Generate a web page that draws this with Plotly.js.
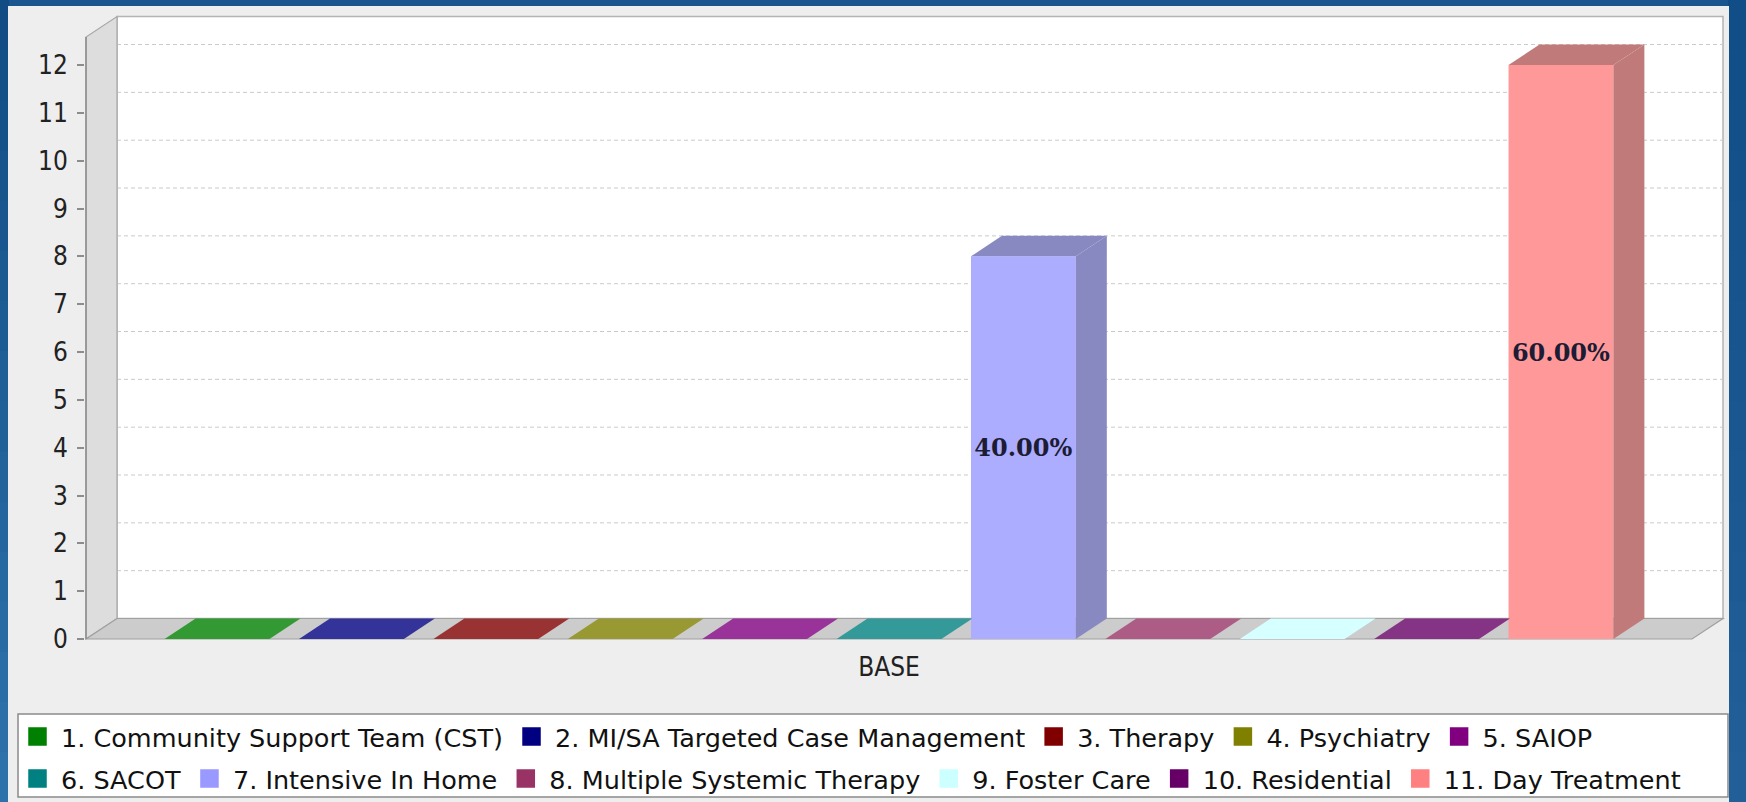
<!DOCTYPE html>
<html><head><meta charset="utf-8">
<script src="https://cdn.plot.ly/plotly-3.0.1.min.js"></script>
<style>html,body{margin:0;padding:0;background:#1a5590;overflow:hidden;} #chart{width:1746px;height:802px;}</style>
</head><body><div id="chart"></div>
<script>
// ---------------- data ----------------
const categoryLabel = 'BASE';
const seriesNames = [
  '1. Community Support Team (CST)',
  '2. MI/SA Targeted Case Management',
  '3. Therapy',
  '4. Psychiatry',
  '5. SAIOP',
  '6. SACOT',
  '7. Intensive In Home',
  '8. Multiple Systemic Therapy',
  '9. Foster Care',
  '10. Residential',
  '11. Day Treatment'
];
const seriesValues = [0, 0, 0, 0, 0, 0, 8, 0, 0, 0, 12];
const yTickValues = [0,1,2,3,4,5,6,7,8,9,10,11,12];
const yTickLabels = ['0','1','2','3','4','5','6','7','8','9','10','11','12'];

// ---------------- style ----------------
const seriesColors = ['#008000','#000080','#800000','#808000','#800080','#008080','#9999ff','#993366','#ccffff','#660066','#ff8080'];
const TICKFONT = 'DejaVu Sans Condensed, DejaVu Sans, sans-serif';
const LEGENDFONT = 'DejaVu Sans, sans-serif';
const W = 1746, H = 802;
const M = {l: 85, r: 19, t: 14, b: 161};
const plotW = W - M.l - M.r, plotH = H - M.t - M.b;
const pxPerX = 1606, pxPerY = 47.83;       // scale of the front plane
const frontLeftPx = 86, zeroPx = 639;
const xRange = [-0.5 - (frontLeftPx - M.l) / pxPerX, -0.5 + (W - M.r - frontLeftPx) / pxPerX];
const yRange = [-(H - M.b - zeroPx) / pxPerY, (zeroPx - M.t) / pxPerY];
const depthX = 31 / pxPerX, depthY = 20.5 / pxPerY;
const frontTop = 12.586;
const bargap = 0.0795, bargroupgap = 0.22;

function hex2rgb(h){h=h.replace('#','');return [0,2,4].map(i=>parseInt(h.substr(i,2),16));}
function rgb(a){return 'rgb('+a.map(v=>Math.round(v)).join(',')+')';}
function faceColor(h){return rgb(hex2rgb(h).map(v=>0.8*v+0.2*255));}
function darkColor(h){return rgb(hex2rgb(h).map(v=>0.8*Math.floor(v*0.7)+0.2*255));}
function px2paperX(px){return (px - M.l) / plotW;}
function px2paperY(py){return (H - M.b - py) / plotH;}
function mix(a, b, t){const A=hex2rgb(a),B=hex2rgb(b);return rgb(A.map((v,k)=>v+(B[k]-v)*t));}

const total = seriesValues.reduce((a,b)=>a+b,0);
const n = seriesNames.length;
const slot = (1 - bargap) / n;
const barW = slot * (1 - bargroupgap);

const traces = [];
seriesNames.forEach((name, i) => {
  const v = seriesValues[i];
  traces.push({
    type: 'bar', x: [0], y: [v], name: name, showlegend: false, legendgroup: 'g'+i,
    marker: {color: faceColor(seriesColors[i]), line: {width: 0}},
    text: [v > 0 ? (v / total * 100).toFixed(2) + '%' : ''],
    textposition: 'inside', insidetextanchor: 'middle',
    textfont: {family: 'DejaVu Serif, serif', size: 24, color: '#1c1c34', weight: 'bold'},
    hoverinfo: 'name+y'
  });
});
// legend entries
seriesNames.forEach((name, i) => {
  traces.push({
    type: 'scatter', mode: 'markers', x: [null], y: [null], name: name,
    legendgroup: 'g'+i, legend: i < 5 ? 'legend' : 'legend2',
    marker: {symbol: 'square', size: 16, color: seriesColors[i], line: {width: 2.5, color: seriesColors[i]}}
  });
});

const shapes = [];
// blue frame gradient bands
const bands = 16;
for (let k = 0; k < bands; k++) {
  const y0 = H * k / bands, y1 = H * (k + 1) / bands;
  const t = k / (bands - 1);
  shapes.push({type:'rect', xref:'paper', yref:'paper', layer:'below',
    x0: px2paperX(0), x1: px2paperX(9), y0: px2paperY(y1 + 0.5), y1: px2paperY(y0),
    fillcolor: mix('#114c84', '#2e72ac', t), line:{width:0}});
  shapes.push({type:'rect', xref:'paper', yref:'paper', layer:'below',
    x0: px2paperX(1728), x1: px2paperX(W), y0: px2paperY(y1 + 0.5), y1: px2paperY(y0),
    fillcolor: mix('#114e88', '#225f98', t), line:{width:0}});
}
// gray panel
shapes.push({type:'rect', xref:'paper', yref:'paper', layer:'below',
  x0: px2paperX(8), x1: px2paperX(1729), y0: px2paperY(6), y1: px2paperY(803),
  fillcolor:'#eeeeee', line:{width:0}});
// legend box
shapes.push({type:'rect', xref:'paper', yref:'paper', layer:'below',
  x0: px2paperX(18), x1: px2paperX(1728), y0: px2paperY(714), y1: px2paperY(797),
  fillcolor:'#ffffff', line:{width:1.5, color:'#8a8a8a'}});
// back wall
shapes.push({type:'rect', xref:'x', yref:'y', layer:'below',
  x0: -0.5 + depthX, x1: 0.5 + depthX, y0: depthY, y1: frontTop + depthY,
  fillcolor:'#ffffff', line:{width:1.5, color:'#b4b4b4'}});
// grid lines on back wall
yTickValues.forEach(v => {
  if (v <= 0) return;
  shapes.push({type:'line', xref:'x', yref:'y', layer:'below',
    x0: -0.5 + depthX, x1: 0.5 + depthX, y0: v + depthY, y1: v + depthY,
    line:{width:1, color:'#cacaca', dash:'4px,3px'}});
});
// left wall
shapes.push({type:'path', xref:'x', yref:'y', layer:'below',
  path: `M${-0.5},0 L${-0.5},${frontTop} L${-0.5+depthX},${frontTop+depthY} L${-0.5+depthX},${depthY} Z`,
  fillcolor:'#dddddd', line:{width:1.2, color:'#a8a8a8'}});
// floor
shapes.push({type:'path', xref:'x', yref:'y', layer:'below',
  path: `M${-0.5},0 L${-0.5+depthX},${depthY} L${0.5+depthX},${depthY} L${0.5},0 Z`,
  fillcolor:'#cccccc', line:{width:1.2, color:'#a0a0a0'}});
// axis edge
shapes.push({type:'line', xref:'x', yref:'y', layer:'below',
  x0:-0.5, x1:-0.5, y0:0, y1:frontTop, line:{width:1.5, color:'#8c8c8c'}});
// 3D faces of bars
seriesValues.forEach((v, i) => {
  const c = -(1 - bargap) / 2 + (i + 0.5) * slot;
  const xl = c - barW / 2, xr = c + barW / 2;
  if (v > 0) {
    const dc = darkColor(seriesColors[i]);
    shapes.push({type:'path', xref:'x', yref:'y', layer:'above',
      path:`M${xr},0 L${xr+depthX},${depthY} L${xr+depthX},${v+depthY} L${xr},${v} Z`,
      fillcolor: dc, line:{width:0}});
    shapes.push({type:'path', xref:'x', yref:'y', layer:'above',
      path:`M${xl},${v} L${xl+depthX},${v+depthY} L${xr+depthX},${v+depthY} L${xr},${v} Z`,
      fillcolor: dc, line:{width:0}});
  } else {
    shapes.push({type:'path', xref:'x', yref:'y', layer:'above',
      path:`M${xl},0 L${xl+depthX},${depthY} L${xr+depthX},${depthY} L${xr},0 Z`,
      fillcolor: faceColor(seriesColors[i]), line:{width:0}});
  }
});

const legendCommon = {orientation:'h', xanchor:'left', yanchor:'middle', bgcolor:'rgba(0,0,0,0)',
  borderwidth:0, font:{family:LEGENDFONT, size:25.5, color:'#111111'}, itemwidth:37, tracegroupgap:0};

const layout = {
  width: W, height: H,
  paper_bgcolor: '#1a5590', plot_bgcolor: 'rgba(0,0,0,0)',
  margin: {l:M.l, r:M.r, t:M.t, b:M.b, pad:0, autoexpand:false},
  barmode: 'group', bargap: bargap, bargroupgap: bargroupgap,
  xaxis: {type:'linear', range:xRange, tickvals:[0], ticktext:[categoryLabel],
    showgrid:false, zeroline:false, showline:false, ticks:'', ticklabelstandoff:8,
    tickfont:{family:TICKFONT, size:26, color:'#222222'}, fixedrange:true},
  yaxis: {range:yRange, tickvals:yTickValues, ticktext:yTickLabels,
    showgrid:false, zeroline:false, showline:false, ticks:'outside', ticklen:7, tickwidth:1.5,
    tickcolor:'#8c8c8c', ticklabelstandoff:4,
    tickfont:{family:TICKFONT, size:26, color:'#222222'}, fixedrange:true},
  showlegend: true,
  legend: Object.assign({}, legendCommon, {x: px2paperX(14), y: px2paperY(737)}),
  legend2: Object.assign({}, legendCommon, {x: px2paperX(14), y: px2paperY(779)}),
  shapes: shapes
};
Plotly.newPlot('chart', traces, layout, {displayModeBar:false});
</script></body></html>
